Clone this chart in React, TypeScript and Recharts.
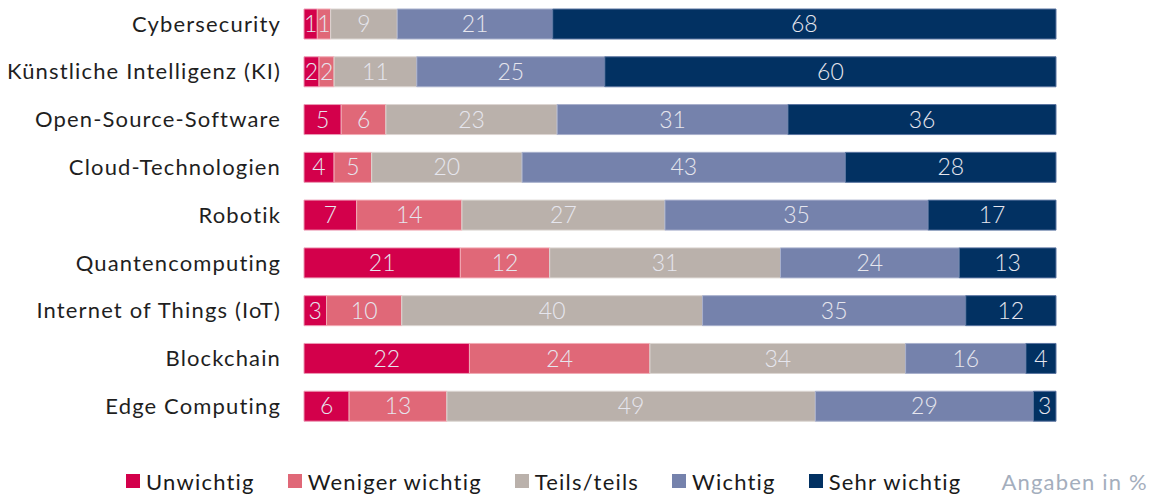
import React from "react";
import { BarChart, Bar, XAxis, YAxis, LabelList } from "recharts";

const categories = [
  "Cybersecurity",
  "Künstliche Intelligenz (KI)",
  "Open-Source-Software",
  "Cloud-Technologien",
  "Robotik",
  "Quantencomputing",
  "Internet of Things (IoT)",
  "Blockchain",
  "Edge Computing",
];
const unwichtig = [1, 2, 5, 4, 7, 21, 3, 22, 6];
const wenigerWichtig = [1, 2, 6, 5, 14, 12, 10, 24, 13];
const teilsTeils = [9, 11, 23, 20, 27, 31, 40, 34, 49];
const wichtig = [21, 25, 31, 43, 35, 24, 35, 16, 29];
const sehrWichtig = [68, 60, 36, 28, 17, 13, 12, 4, 3];

const seriesNames = ["Unwichtig", "Weniger wichtig", "Teils/teils", "Wichtig", "Sehr wichtig"];
const seriesValues = [unwichtig, wenigerWichtig, teilsTeils, wichtig, sehrWichtig];
const seriesKeys = ["u", "w", "t", "wi", "s"];
const colors = ["#D3004B", "#E06878", "#BAB1AB", "#7582AC", "#023162"];
const strokes = ["#EC9AB4", "#F2AAB4", "#DCD6D2", "#A8B0CC", "#5A74A0"];

// segments narrower than this share are widened slightly so their labels fit (as in the original)
const MIN_SHARE = 1.8;

const data = categories.map((c, i) => {
  const row: Record<string, any> = { name: c };
  seriesKeys.forEach((k, j) => {
    row[k] = seriesValues[j][i];
    row[k + "_d"] = Math.max(seriesValues[j][i], MIN_SHARE);
  });
  return row;
});

const FONT = "Lato, 'Noto Sans', sans-serif";

function Legendary() {
  return (
    <div
      style={{
        position: "absolute",
        left: 126,
        top: 468,
        display: "flex",
        alignItems: "center",
        fontFamily: FONT,
        fontSize: 22,
        letterSpacing: 1.2,
        color: "#1a1a1a",
        whiteSpace: "nowrap",
        height: 26,
      }}
    >
      {seriesNames.map((n, i) => (
        <div key={n} style={{ display: "flex", alignItems: "center", marginRight: 33 }}>
          <span
            style={{
              display: "inline-block",
              width: 14,
              height: 14,
              background: colors[i],
              marginRight: 6,
            }}
          />
          <span>{n}</span>
        </div>
      ))}
      <span style={{ color: "#A4AEBD", marginLeft: 7 }}>Angaben in %</span>
    </div>
  );
}

export default function App() {
  return (
    <div style={{ position: "absolute", left: 0, top: 0, width: 1155, height: 497, background: "#fff" }}>
      <BarChart
        width={1155}
        height={497}
        data={data}
        layout="vertical"
        stackOffset="expand"
        margin={{ top: 0, right: 99, bottom: 67, left: 0 }}
        barCategoryGap={0}
      >
        <XAxis type="number" hide domain={[0, 1]} />
        <YAxis
          type="category"
          dataKey="name"
          width={304}
          axisLine={false}
          tickLine={false}
          tickSize={0}
          tickMargin={23}
          interval={0}
          tick={{ fontFamily: FONT, fontSize: 22, fill: "#1f1f1f", letterSpacing: 1.15 }}
        />
        {seriesKeys.map((k, i) => (
          <Bar
            key={k}
            dataKey={k + "_d"}
            name={seriesNames[i]}
            stackId="a"
            fill={colors[i]}
            stroke={strokes[i]}
            strokeWidth={1}
            barSize={30}
            isAnimationActive={false}
          >
            <LabelList
              dataKey={k}
              position="center"
              fill="#E6E6EE"
              style={{ fontFamily: FONT, fontSize: 23, fontWeight: 300 }}
            />
          </Bar>
        ))}
      </BarChart>
      <Legendary />
    </div>
  );
}
